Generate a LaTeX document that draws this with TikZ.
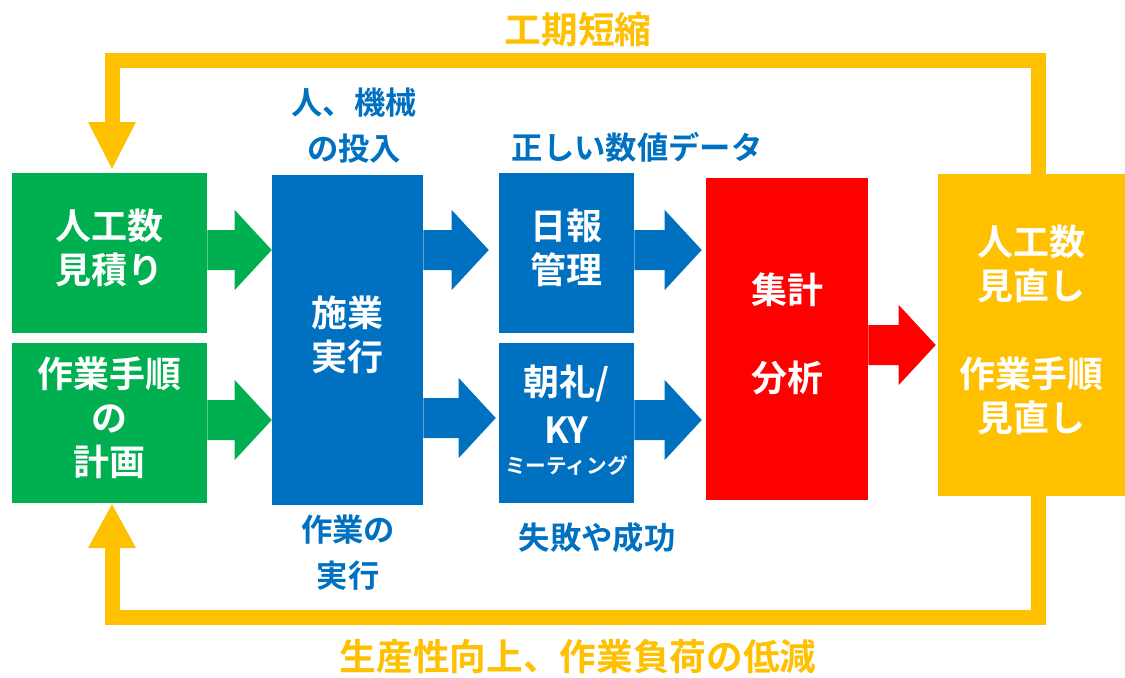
\documentclass[tikz,border=0pt]{standalone}
\usepackage{fontspec}
\setmainfont{Noto Sans CJK JP}[BoldFont={* Bold}]
\usetikzlibrary{calc}
\definecolor{cgreen}{HTML}{00B050}
\definecolor{cblue}{HTML}{0070C0}
\definecolor{cred}{HTML}{FF0000}
\definecolor{corange}{HTML}{FFC000}
\newcommand{\fatarrow}[3]{\fill[#1] ($(#2)+(0,-20)$) -- ($(#3)+(-37,-20)$) -- ($(#3)+(-37,-40)$) -- (#3) -- ($(#3)+(-37,40)$) -- ($(#3)+(-37,20)$) -- ($(#2)+(0,20)$) -- cycle;}
\tikzset{
  box/.style={rectangle, inner sep=0pt, text=white, align=center,
    font=\bfseries\fontsize{27}{33}\selectfont},
  panel/.style={box, text depth=10.5pt},
  lbl/.style={text=cblue, align=center, inner sep=0pt,
    font=\bfseries\fontsize{23.5}{34}\selectfont},
  olbl/.style={text=corange, align=center, inner sep=0pt,
    font=\bfseries\fontsize{27.5}{33}\selectfont},
  loopline/.style={draw=corange, line width=11.25pt, line join=miter, line cap=butt}
}
\begin{document}
\begin{tikzpicture}[x=0.75pt, y=-0.75pt]
\useasboundingbox (0,0) rectangle (1125,678);
% boxes
\node[panel, fill=cgreen, minimum width=146.25pt, minimum height=120pt] (g1) at (109.5,253) {人工数\\見積り};
\node[panel, fill=cgreen, minimum width=146.25pt, minimum height=120pt] (g2) at (109.5,423) {作業手順\\の\\計画};
\node[panel, fill=cblue, minimum width=113.25pt, minimum height=247.5pt] (exec) at (347.5,340) {施業\\実行};
\node[panel, fill=cblue, minimum width=101.25pt, minimum height=120pt] (daily) at (566.5,253) {日報\\管理};
\node[box, fill=cblue, minimum width=101.25pt, minimum height=120pt] (morning) at (566.5,423) {};
\node[box] (mt1) at (566.5,383) {朝礼/};
\node[box] (mt2) at (566.5,430) {KY};
\node[box, font=\bfseries\fontsize{15.5}{18}\selectfont] (mt3) at (566.5,465) {ミーティング};
\node[panel, fill=cred, minimum width=121.5pt, minimum height=241.5pt] (red) at (787,339) {集計\\[33pt]分析};
\node[panel, fill=corange, minimum width=140.25pt, minimum height=241.5pt] (orange) at (1031.5,335) {人工数\\見直し\\[33pt]作業手順\\見直し};
% labels
\node[olbl] (top) at (578,30) {工期短縮};
\node[olbl] (bottom) at (578,657) {生産性向上、作業負荷の低減};
\node[lbl] (l1) at (354,125.5) {人、機械\\の投入};
\node[lbl] (l2) at (637,147) {正しい数値データ};
\node[lbl] (l3) at (348,552.5) {作業の\\実行};
\node[lbl] (l4) at (597,538) {失敗や成功};
% helper coordinates
\coordinate (a1) at (0,250);
\coordinate (a2) at (0,420);
\coordinate (a3) at (0,418);
\coordinate (a4) at (0,345);
\coordinate (s1) at (g1.east |- a1);
\coordinate (t1) at (exec.west |- a1);
\coordinate (s2) at (g2.east |- a2);
\coordinate (t2) at (exec.west |- a2);
\coordinate (s3) at (exec.east |- a1);
\coordinate (t3) at ($(daily.west |- a1)+(-10,0)$);
\coordinate (s4) at (exec.east |- a3);
\coordinate (t4) at ($(morning.west |- a3)+(-3,0)$);
\coordinate (s5) at (daily.east |- a1);
\coordinate (t5) at ($(red.west |- a1)+(-4,0)$);
\coordinate (s6) at (morning.east |- a2);
\coordinate (t6) at ($(red.west |- a2)+(-4,0)$);
\coordinate (s7) at (red.east |- a4);
\coordinate (t7) at ($(orange.west |- a4)+(-2,0)$);
% fat arrows
\fatarrow{cgreen}{s1}{t1}
\fatarrow{cgreen}{s2}{t2}
\fatarrow{cblue}{s3}{t3}
\fatarrow{cblue}{s4}{t4}
\fatarrow{cblue}{s5}{t5}
\fatarrow{cblue}{s6}{t6}
\fatarrow{cred}{s7}{t7}
% feedback loops
\coordinate (rx) at (1038,0);
\coordinate (lx) at (112,0);
\coordinate (ty) at (0,60);
\coordinate (by) at (0,617);
\coordinate (hb1) at (lx |- 0,122);
\coordinate (hb2) at (lx |- 0,548);
\draw[loopline] (orange.north -| rx) -- (rx |- ty) -- (lx |- ty) -- (hb1);
\fill[corange] ($(hb1)+(-24,0)$) -- ($(hb1)+(24,0)$) -- ($(g1.north -| lx)+(0,-4)$) -- cycle;
\draw[loopline] (orange.south -| rx) -- (rx |- by) -- (lx |- by) -- (hb2);
\fill[corange] ($(hb2)+(-24,0)$) -- ($(hb2)+(24,0)$) -- ($(g2.south -| lx)+(0,1)$) -- cycle;
\end{tikzpicture}
\end{document}
